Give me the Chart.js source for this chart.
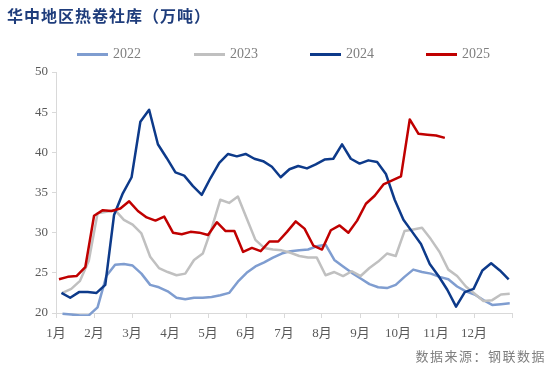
<!DOCTYPE html>
<html>
<head>
<meta charset="utf-8">
<script src="https://cdn.jsdelivr.net/npm/chart.js@4.4.1/dist/chart.umd.min.js"></script>
<style>
  html, body { margin: 0; padding: 0; background: #fff; }
  #wrap { position: relative; width: 550px; height: 366px; overflow: hidden; }
  #title {
    position: absolute; left: 7px; top: 3px;
    font: bold 16px "Noto Sans CJK SC", sans-serif;
    letter-spacing: 1px; color: #1f3d7c;
  }
  #legend { position: absolute; left: 0; top: 45px; width: 550px; height: 18px; }
  .item { position: absolute; top: 0; height: 18px; display: flex; align-items: center; }
  .item span.swatch { display: inline-block; width: 31px; height: 3px; margin-right: 5px; }
  .item span.txt { font: 14px "Liberation Serif", serif; color: #7f7f7f; }
  #source {
    position: absolute; right: 4px; top: 346px;
    font: 13px "Noto Sans CJK SC", sans-serif;
    letter-spacing: 1.5px; color: #7f7f7f;
  }
  canvas { position: absolute; left: 0; top: 0; }
</style>
</head>
<body>
<div id="wrap">
  <canvas id="inventory-chart" width="550" height="366"></canvas>
  <div id="title">华中地区热卷社库（万吨）</div>
  <div id="legend"></div>
  <div id="source">数据来源：钢联数据</div>
</div>
<script>
const years = ['2022', '2023', '2024', '2025'];
const monthLabels = ['1月', '2月', '3月', '4月', '5月', '6月', '7月', '8月', '9月', '10月', '11月', '12月'];
const yTicks = [20, 25, 30, 35, 40, 45, 50];

// 周度社库（万吨），每年按周排列
const stock2022 = [19.9, 19.8, 19.7, 19.7, 20.7, 24.6, 26.0, 26.1, 25.9, 24.9,
    23.5, 23.2, 22.7, 21.9, 21.7, 21.9, 21.9, 22.0, 22.2, 22.5,
    23.9, 25.0, 25.8, 26.3, 26.9, 27.4, 27.7, 27.8, 27.9, 28.3,
    28.5, 26.6, 25.8, 25.0, 24.3, 23.6, 23.2, 23.1, 23.5, 24.5,
    25.4, 25.1, 24.9, 24.5, 24.2, 23.3, 22.7, 22.3, 21.6, 21.0,
    21.1, 21.2];
const stock2023 = [22.5, 23.0, 24.0, 26.5, 32.4, 32.6, 32.8, 31.6, 31.0, 29.9,
    27.0, 25.6, 25.1, 24.7, 24.9, 26.6, 27.4, 30.5, 34.1, 33.7,
    34.5, 31.8, 29.1, 28.1, 27.9, 27.8, 27.5, 27.1, 26.9, 26.9,
    24.7, 25.1, 24.6, 25.2, 24.6, 25.6, 26.4, 27.4, 27.1, 30.2,
    30.4, 30.6, 29.2, 27.6, 25.4, 24.6, 23.3, 22.4, 21.5, 21.6,
    22.3, 22.4];
const stock2024 = [22.5, 21.9, 22.6, 22.6, 22.5, 23.5, 32.2, 34.9, 36.9, 43.8,
    45.3, 41.0, 39.3, 37.5, 37.1, 35.8, 34.7, 36.8, 38.7, 39.8,
    39.5, 39.8, 39.2, 38.9, 38.2, 36.9, 37.9, 38.3, 38.0, 38.5,
    39.1, 39.2, 41.0, 39.2, 38.6, 39.0, 38.8, 37.3, 34.1, 31.6,
    30.1, 28.6, 26.1, 24.6, 22.9, 20.8, 22.6, 23.0, 25.3, 26.2,
    25.3, 24.2];
const stock2025 = [24.2, 24.5, 24.6, 25.7, 32.1, 32.8, 32.7, 33.0, 33.9, 32.7,
    31.9, 31.5, 32.0, 30.0, 29.8, 30.1, 30.0, 29.7, 31.3, 30.2,
    30.2, 27.6, 28.1, 27.7, 28.9, 28.9, 30.1, 31.4, 30.5, 28.4,
    27.9, 30.3, 30.9, 30.0, 31.5, 33.6, 34.6, 36.0, 36.5, 37.0,
    44.1, 42.3, 42.2, 42.1, 41.8];

const allStock = [stock2022, stock2023, stock2024, stock2025];
const colors = ['#7f9dd0', '#c0c0c0', '#0d3a8a', '#c00000'];
const firstWeek = [0.74, 0.74, 0.62, 0.34];  // 每年第一条数据在第几周
const weeksInYear = 52;

const monthTicks = [];
for (let m = 0; m <= 12; m++) {
    monthTicks.push(m * weeksInYear / 12);
}

const datasets = years.map((year, idx) => ({
    label: year,
    data: allStock[idx].map((v, i) => ({ x: firstWeek[idx] + i, y: v })),
    borderColor: colors[idx],
    backgroundColor: colors[idx],
    borderWidth: 2.5,
    borderJoinStyle: 'round',
    pointRadius: 0,
    tension: 0,
    clip: 3,  // 低于20的部分贴着横轴画出来
    order: years.length - idx
}));

// 图例
const legendEl = document.getElementById('legend');
const legendX = [77, 194, 310, 426];
years.forEach((year, idx) => {
    const item = document.createElement('div');
    item.className = 'item';
    item.style.left = legendX[idx] + 'px';
    item.innerHTML = '<span class="swatch" style="background:' + colors[idx] + '"></span><span class="txt">' + year + '</span>';
    legendEl.appendChild(item);
});

const axisColor = '#d9d9d9';
const tickFont = { family: '"Liberation Serif", "Noto Sans CJK SC", serif', size: 13 };

new Chart(document.getElementById('inventory-chart').getContext('2d'), {
    type: 'line',
    data: { datasets: datasets },
    options: {
        responsive: false,
        animation: false,
        events: [],
        layout: { padding: { top: 72, left: 0, right: 38, bottom: 0 } },
        plugins: {
            legend: { display: false },
            tooltip: { enabled: false }
        },
        scales: {
            x: {
                type: 'linear',
                min: 0,
                max: weeksInYear,
                afterBuildTicks: (scale) => {
                    scale.ticks = monthTicks.map(v => ({ value: v }));
                },
                afterFit: (scale) => { scale.height = 53; },
                ticks: {
                    autoSkip: false,
                    maxRotation: 0,
                    padding: 8,
                    color: '#595959',
                    font: tickFont,
                    callback: (value, index) => monthLabels[index] || ''
                },
                grid: { drawOnChartArea: false, drawTicks: true, tickLength: 5, color: axisColor },
                border: { color: axisColor, width: 1 }
            },
            y: {
                min: 20,
                max: 50,
                afterBuildTicks: (scale) => {
                    scale.ticks = yTicks.map(v => ({ value: v }));
                },
                afterFit: (scale) => { scale.width = 56; },
                ticks: {
                    padding: 4,
                    color: '#595959',
                    font: tickFont
                },
                grid: { drawOnChartArea: false, drawTicks: true, tickLength: 4, color: axisColor },
                border: { color: axisColor, width: 1 }
            }
        }
    }
});
</script>
</body>
</html>
